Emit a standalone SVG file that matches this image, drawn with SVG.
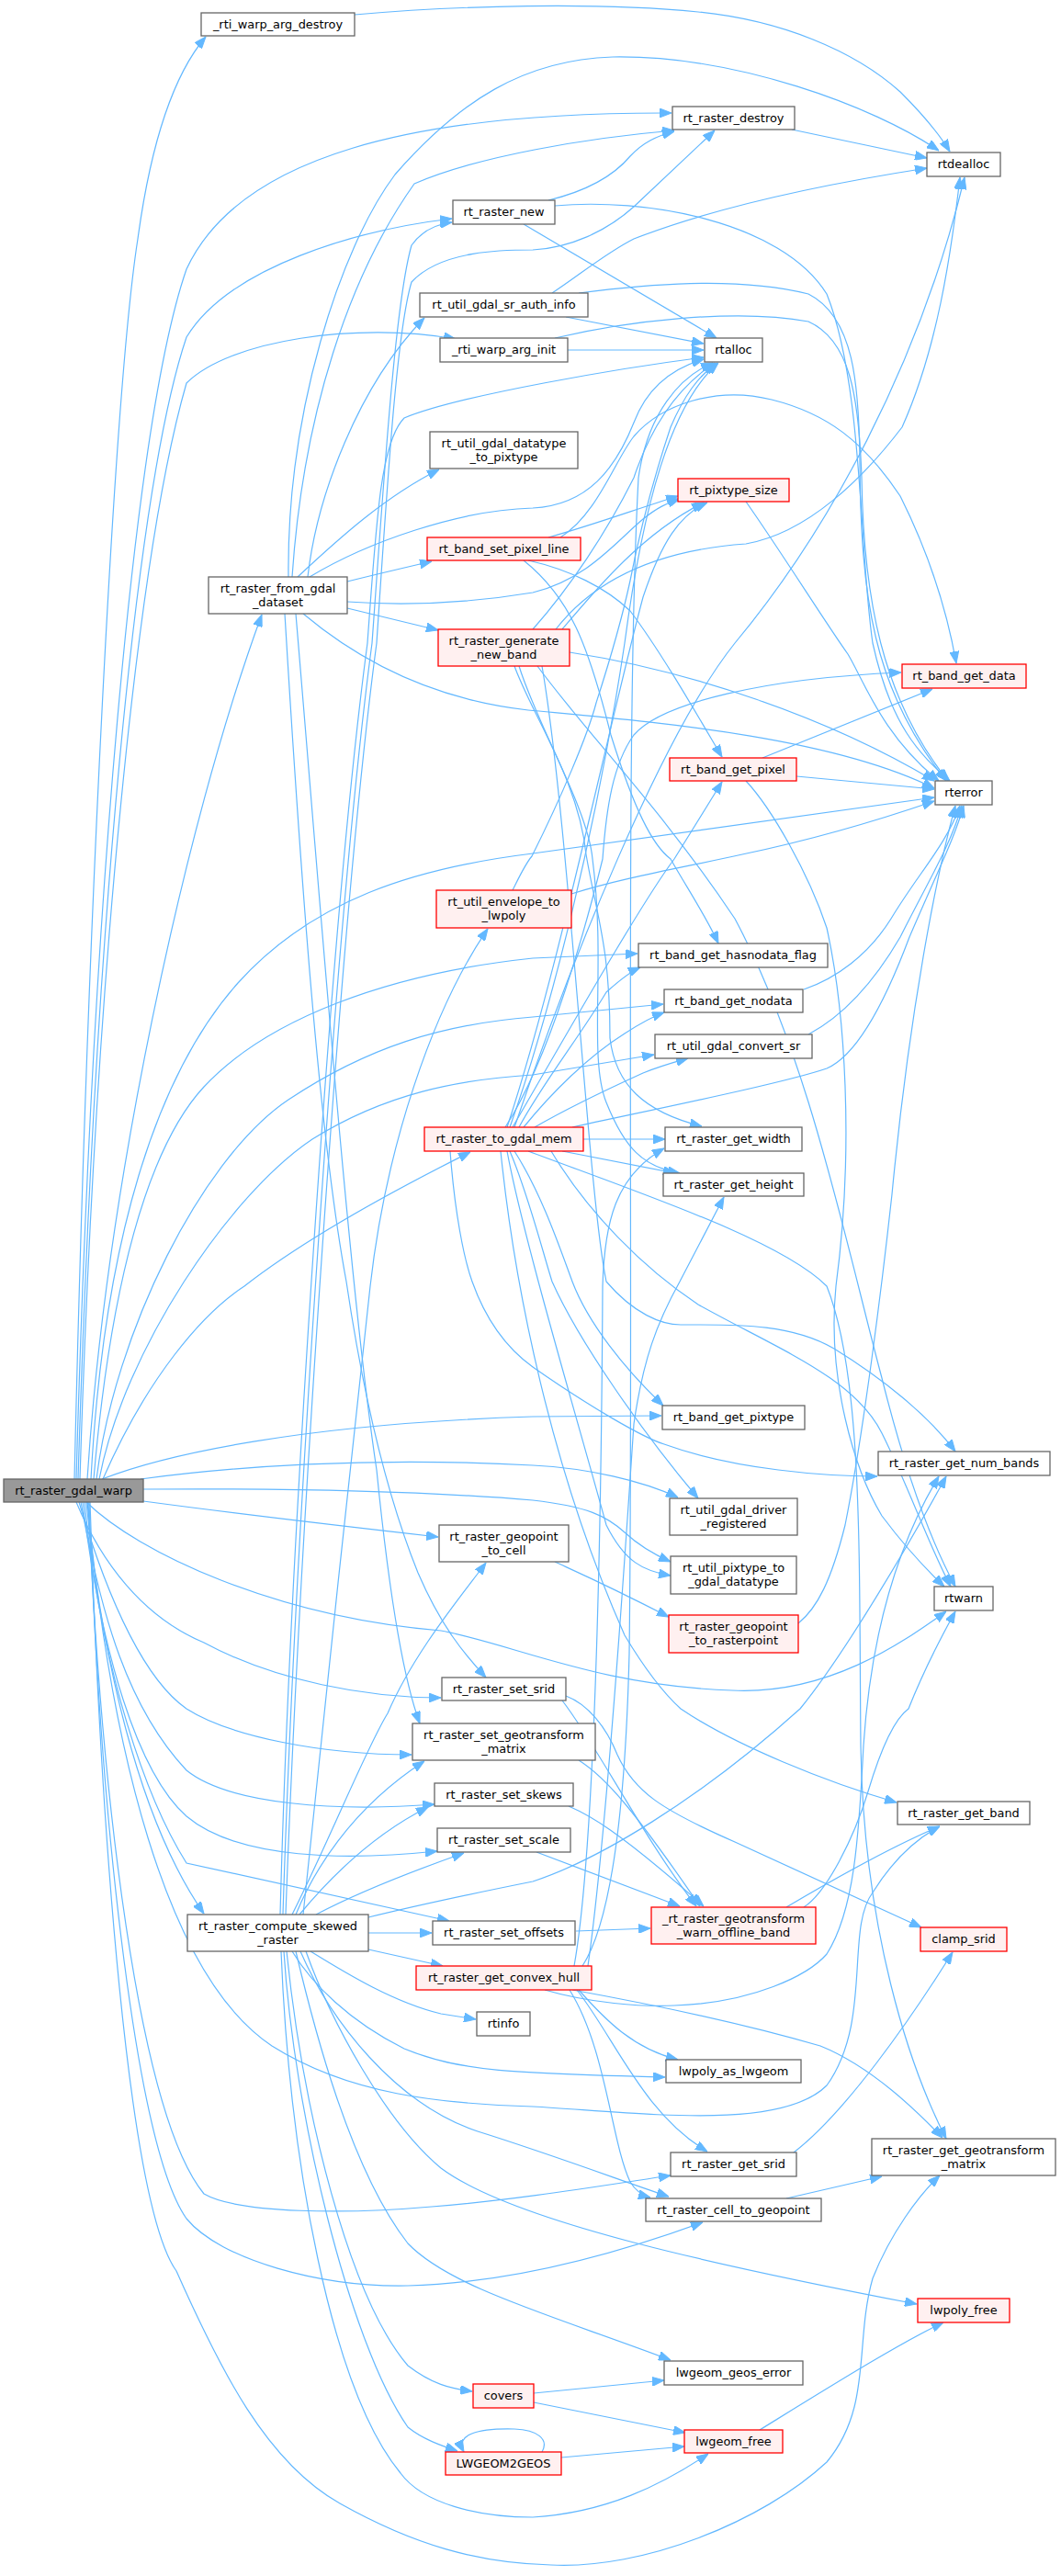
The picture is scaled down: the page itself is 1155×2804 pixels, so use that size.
<svg xmlns="http://www.w3.org/2000/svg" width="1155" height="2804" viewBox="0 0 1155 2804">
<style>
.e{fill:none;stroke:#63b8ff;stroke-width:1.2;marker-end:url(#ah)}
.n rect{fill:#ffffff;stroke:#666666;stroke-width:1.3}
.r rect{fill:#fff0f0;stroke:#ff0000;stroke-width:1.3}
.m rect{fill:#999999;stroke:#666666;stroke-width:1.3}
text{font-family:"DejaVu Sans","Liberation Sans",sans-serif;font-size:12.9px;fill:#000;text-anchor:middle}
</style>
<defs>
<marker id="ah" viewBox="0 0 13 10" refX="13" refY="5" markerWidth="13" markerHeight="10" markerUnits="userSpaceOnUse" orient="auto">
<path d="M0,0 L13,5 L0,10 z" fill="#63b8ff" stroke="#63b8ff"/>
</marker>
</defs>
<rect width="1155" height="2804" fill="#ffffff"/>
<g id="edges">
<!-- from rt_raster_gdal_warp -->
<path class="e" d="M81,1610 C95,1000 125,420 150,260 C165,150 190,80 224,40"/>
<path class="e" d="M83,1610 C100,1000 145,460 203,293 C260,170 450,122 731,123"/>
<path class="e" d="M85,1610 C103,1020 148,530 203,367 C250,290 390,250 492,238"/>
<path class="e" d="M87,1610 C104,1060 150,600 203,417 C250,370 390,350 496,369"/>
<path class="e" d="M95,1610 C115,1300 200,900 285,669"/>
<path class="e" d="M99,1610 C113,1350 170,1170 259,1070 C340,980 450,945 580,929 L1017,868"/>
<path class="e" d="M102,1610 C120,1400 160,1250 222,1183 C290,1110 420,1060 580,1043 L694,1038"/>
<path class="e" d="M105,1610 C125,1450 220,1260 314,1197 C400,1140 480,1115 580,1107 L722,1093"/>
<path class="e" d="M108,1610 C135,1470 250,1300 340,1240 C420,1190 500,1175 580,1170 L712,1148"/>
<path class="e" d="M112,1610 C160,1500 220,1430 266,1400 C330,1350 420,1300 512,1254"/>
<path class="e" d="M111,1610 C180,1583 330,1550 580,1542 L720,1541"/>
<path class="e" d="M153,1610 C250,1597 400,1585 580,1595 C640,1598 700,1612 738,1630"/>
<path class="e" d="M156,1621 C300,1620 450,1622 580,1633 C640,1640 660,1650 680,1668 C695,1682 712,1692 730,1700"/>
<path class="e" d="M156,1634 C260,1648 380,1662 477,1673"/>
<path class="e" d="M95,1635 C120,1900 180,2150 296,2227 C380,2280 480,2290 580,2293 C700,2300 850,2320 900,2270 C950,2200 920,2100 950,2060 C975,2020 1000,2000 1023,1988"/>
<path class="e" d="M94,1635 C150,1690 300,1760 480,1775 C560,1790 650,1835 797,1840 C900,1845 980,1790 1030,1754"/>
<path class="e" d="M83,1635 C110,1700 155,1760 222,1788 C300,1830 400,1848 480,1848"/>
<path class="e" d="M86,1635 C120,1750 160,1830 203,1860 C250,1890 350,1910 448,1910"/>
<path class="e" d="M88,1635 C110,1760 140,1860 203,1927 C250,1965 370,1972 473,1964"/>
<path class="e" d="M90,1635 C110,1800 150,1930 203,1977 C260,2025 380,2025 476,2015"/>
<path class="e" d="M92,1635 C110,1820 160,1960 203,2028 L489,2091"/>
<path class="e" d="M94,1635 C110,1800 150,1980 222,2083"/>
<path class="e" d="M96,1635 C110,1950 150,2300 222,2388 C260,2410 380,2410 470,2402 C560,2395 650,2380 730,2368"/>
<path class="e" d="M97,1635 C110,2000 150,2340 203,2415 C240,2460 350,2490 444,2488 C560,2485 680,2450 765,2419"/>
<path class="e" d="M98,1635 C110,2000 140,2400 192,2472 C240,2580 290,2680 370,2725 C450,2770 520,2790 600,2792 C700,2797 830,2745 900,2680 C950,2620 930,2550 950,2480 C970,2430 1000,2390 1023,2368"/>
<!-- from rt_raster_from_gdal_dataset -->
<path class="e" d="M318,628 C330,450 380,300 451,200 C520,170 640,150 734,142"/>
<path class="e" d="M314,628 C312,450 370,270 430,190 C500,110 570,65 667,62 C800,60 950,115 1022,164"/>
<path class="e" d="M335,628 C345,540 390,420 462,346"/>
<path class="e" d="M324,628 C370,585 420,540 478,511"/>
<path class="e" d="M378,633 C410,625 440,618 470,611"/>
<path class="e" d="M378,662 L477,686"/>
<path class="e" d="M330,668 C380,710 460,760 575,773 C700,785 900,800 1017,858"/>
<path class="e" d="M337,628 C400,590 500,555 580,553 C640,550 670,510 690,460 C705,420 735,400 766,391"/>
<path class="e" d="M378,655 C450,660 520,655 580,645 C640,630 670,590 700,565 C715,553 725,548 740,543"/>
<path class="e" d="M310,668 C330,1000 350,1250 377,1395 C400,1550 430,1650 455,1712 C480,1770 505,1800 529,1826"/>
<path class="e" d="M322,668 C350,1000 380,1400 410,1600 C425,1750 440,1830 457,1876"/>
<!-- from rt_raster_compute_skewed_raster -->
<path class="e" d="M305,2084 C315,1700 360,1000 400,700 C410,560 415,480 440,455 C500,430 680,400 766,389"/>
<path class="e" d="M308,2084 C320,1700 365,1000 405,700 C418,520 430,330 448,267 C460,250 475,244 492,242"/>
<path class="e" d="M311,2084 C325,1700 370,1000 410,700 C422,520 432,360 448,307 C480,272 550,272 580,272 C620,270 660,252 690,225 L778,142"/>
<path class="e" d="M330,2084 C350,1900 380,1600 403,1400 C420,1250 470,1100 531,1011"/>
<path class="e" d="M318,2084 C360,2000 400,1900 422,1865 C450,1800 500,1740 529,1701"/>
<path class="e" d="M322,2084 C340,2040 380,1970 462,1917"/>
<path class="e" d="M326,2084 C350,2055 400,2000 466,1967"/>
<path class="e" d="M344,2084 C380,2065 440,2040 505,2017"/>
<path class="e" d="M401,2104 L470,2104"/>
<path class="e" d="M401,2122 L482,2140"/>
<path class="e" d="M338,2124 C380,2150 430,2180 480,2192 L518,2198"/>
<path class="e" d="M318,2124 C340,2160 380,2200 440,2230 C500,2255 560,2257 724,2261"/>
<path class="e" d="M327,2124 C360,2200 430,2290 520,2320 C600,2345 680,2375 728,2391"/>
<path class="e" d="M333,2124 C360,2200 420,2310 480,2360 C560,2420 800,2470 998,2508"/>
<path class="e" d="M322,2124 C340,2200 380,2360 444,2442 C490,2490 600,2520 730,2569"/>
<path class="e" d="M312,2124 C330,2300 380,2500 444,2575 C470,2595 490,2600 514,2603"/>
<path class="e" d="M309,2124 C320,2300 380,2550 444,2642 C460,2655 480,2662 498,2668"/>
<path class="e" d="M306,2124 C315,2350 360,2600 436,2692 C460,2725 520,2740 580,2740 C660,2735 720,2705 771,2671"/>
<path class="e" d="M401,2087 C450,2075 520,2060 580,2048 C650,2025 760,1960 871,1860 C920,1800 990,1680 1030,1607"/>
<!-- from rt_raster_get_convex_hull -->
<path class="e" d="M634,2140 C660,2100 680,2000 685,1800 C690,1400 680,800 695,520 C705,450 740,410 776,395"/>
<path class="e" d="M625,2140 C650,2000 655,1600 656,1400 C658,1330 670,1280 723,1250"/>
<path class="e" d="M640,2140 C660,2000 680,1700 690,1550 C700,1480 715,1440 740,1395 L788,1303"/>
<path class="e" d="M630,2166 C660,2200 690,2230 738,2242"/>
<path class="e" d="M628,2166 C670,2220 700,2300 770,2342"/>
<path class="e" d="M620,2166 C660,2230 665,2330 686,2375 C692,2385 700,2390 708,2392"/>
<path class="e" d="M623,2166 C700,2180 800,2200 893,2227 C950,2250 1000,2300 1026,2327"/>
<path class="e" d="M593,2166 C640,2180 700,2185 734,2183 C820,2180 880,2150 900,2127 C930,2080 935,2000 940,1900 C950,1750 990,1660 1022,1607"/>
<!-- geotransform setters -->
<path class="e" d="M616,1846 C640,1855 660,1880 672,1910 C690,1950 720,1970 800,2005 L1003,2098"/>
<path class="e" d="M612,1851 C650,1900 700,2000 758,2075"/>
<path class="e" d="M630,1916 C660,1935 690,1970 762,2075"/>
<path class="e" d="M619,1966 C640,1975 670,1990 766,2075"/>
<path class="e" d="M584,2016 L740,2075"/>
<path class="e" d="M627,2102 L708,2099"/>
<path class="e" d="M856,2076 C900,2050 970,2010 1023,1988"/>
<path class="e" d="M875,2076 C900,2060 930,2000 945,1950 C960,1900 975,1870 989,1860 C1005,1820 1020,1790 1040,1754"/>
<!-- bottom right small -->
<path class="e" d="M864,2343 C920,2300 990,2200 1037,2125"/>
<path class="e" d="M856,2393 L960,2369"/>
<path class="e" d="M827,2645 C900,2600 980,2550 1027,2528"/>
<path class="e" d="M581,2605 L723,2591"/>
<path class="e" d="M581,2615 L746,2648"/>
<path class="e" d="M590,2669 C598,2655 585,2645 560,2644 C520,2643 495,2650 505,2669"/>
<path class="e" d="M611,2675 L745,2663"/>
<!-- envelope, geopoint -->
<path class="e" d="M558,969 C565,955 572,940 579,932 C610,870 640,800 649,765 C670,700 680,660 686,632 C700,560 715,510 730,465 C745,430 760,410 780,395"/>
<path class="e" d="M622,973 C680,955 740,945 808,930 C880,915 950,895 1017,872"/>
<path class="e" d="M869,1767 C890,1750 905,1720 920,1660 C940,1560 960,1400 971,1300 C990,1100 1020,950 1040,877"/>
<path class="e" d="M604,1700 C630,1712 660,1725 728,1760"/>
<!-- mid right -->
<path class="e" d="M812,546 C850,600 900,680 923,712 C940,740 960,800 1022,850"/>
<path class="e" d="M830,825 L1015,750"/>
<path class="e" d="M867,845 L1017,859"/>
<path class="e" d="M812,850 C840,880 880,950 900,1010 C920,1100 930,1250 910,1400 C900,1500 930,1600 960,1650 C990,1690 1010,1710 1028,1727"/>
<path class="e" d="M875,1077 C910,1065 945,1040 970,1000 C1000,950 1030,920 1045,877"/>
<path class="e" d="M880,1126 C910,1110 945,1080 980,1020 C1010,960 1035,920 1047,877"/>
<!-- top column 3 -->
<path class="e" d="M601,319 C630,300 660,275 690,260 C780,225 900,200 1009,183"/>
<path class="e" d="M616,345 L766,374"/>
<path class="e" d="M630,319 C700,310 800,300 880,320 C930,345 935,420 936,500 C937,650 950,750 1030,850"/>
<path class="e" d="M618,381 L766,381"/>
<path class="e" d="M604,368 C680,350 800,335 880,350 C925,370 935,430 938,520 C940,650 960,760 1032,850"/>
<path class="e" d="M597,218 C630,210 665,195 686,170 C700,155 715,148 734,143"/>
<path class="e" d="M570,244 L780,368"/>
<path class="e" d="M604,224 C700,215 850,240 900,320 C940,420 935,600 950,700 C970,790 1000,820 1034,850"/>
<path class="e" d="M862,141 L1009,172"/>
<path class="e" d="M386,16 C500,6 650,2 760,13 C850,22 930,55 980,100 C1010,130 1025,150 1034,165"/>
<!-- set_pixel_line -->
<path class="e" d="M597,585 C650,570 690,555 738,540"/>
<path class="e" d="M575,610 C620,620 660,640 686,665 C720,710 760,780 786,824"/>
<path class="e" d="M570,610 C620,650 640,700 665,800 C690,880 710,920 730,935 C750,970 770,1000 782,1027"/>
<path class="e" d="M610,585 C650,560 670,500 690,475 C720,440 780,420 840,435 C900,450 940,480 980,540 C1010,600 1030,660 1041,722"/>
<!-- generate_new_band -->
<path class="e" d="M580,685 C620,640 660,580 690,520 C710,460 740,420 778,395"/>
<path class="e" d="M612,685 C650,640 700,580 766,547"/>
<path class="e" d="M620,710 C750,730 900,780 1017,850"/>
<path class="e" d="M605,685 C640,640 700,600 812,592 C880,580 940,520 982,465 C1020,380 1035,280 1045,193"/>
<path class="e" d="M560,725 C580,780 630,850 638,930 C650,1000 664,1030 664,1130 C670,1180 700,1210 764,1226"/>
<path class="e" d="M565,725 C585,790 640,880 645,935 C660,1050 640,1150 660,1200 C680,1250 700,1270 740,1277"/>
<path class="e" d="M590,725 C620,900 640,1300 660,1395 C690,1430 720,1442 741,1442 C800,1442 860,1440 908,1468 C960,1500 1010,1540 1040,1580"/>
<path class="e" d="M585,725 C640,800 720,880 800,1000 C880,1150 920,1350 960,1500 C990,1620 1020,1690 1040,1727"/>
<!-- to_gdal_mem -->
<path class="e" d="M555,1227 C600,1100 650,900 680,700 C700,550 730,440 782,395"/>
<path class="e" d="M552,1227 C610,1050 660,800 700,650 C720,590 740,560 770,547"/>
<path class="e" d="M558,1227 C620,1120 700,980 734,935 L786,851"/>
<path class="e" d="M550,1227 C600,1150 640,1000 656,935 C660,880 667,832 690,800 C720,765 834,738 981,732"/>
<path class="e" d="M560,1227 C620,1050 720,800 800,700 C900,580 1000,400 1050,193"/>
<path class="e" d="M565,1227 C590,1180 630,1130 660,1080 C680,1062 690,1056 697,1053"/>
<path class="e" d="M570,1227 C600,1190 640,1150 680,1125 C700,1112 712,1106 723,1102"/>
<path class="e" d="M582,1227 C620,1205 667,1183 700,1168 C720,1160 735,1156 749,1152"/>
<path class="e" d="M623,1227 C700,1210 850,1180 900,1163 C930,1150 960,1100 990,1020 C1020,950 1040,910 1049,877"/>
<path class="e" d="M635,1240 L724,1240"/>
<path class="e" d="M612,1253 L735,1277"/>
<path class="e" d="M560,1253 C590,1300 610,1360 623,1395 C640,1440 680,1490 722,1530"/>
<path class="e" d="M555,1253 C575,1300 590,1360 601,1395 C630,1460 700,1560 760,1631"/>
<path class="e" d="M552,1253 C570,1350 630,1550 660,1660 C680,1700 700,1710 730,1715"/>
<path class="e" d="M490,1253 C495,1320 505,1370 514,1395 C530,1440 555,1470 580,1488 C640,1530 700,1565 723,1572 C800,1600 900,1607 955,1607"/>
<path class="e" d="M600,1253 C640,1320 700,1380 760,1420 C850,1470 930,1500 960,1560 C990,1620 1010,1680 1035,1727"/>
<path class="e" d="M545,1253 C560,1400 600,1600 680,1780 C710,1830 730,1850 741,1860 C800,1900 900,1940 976,1962"/>
<path class="e" d="M575,1253 C700,1300 850,1350 900,1400 C940,1500 935,1700 937,1900 C940,2100 990,2250 1030,2328"/>
</g>
<g id="n_warp" class="m"><rect x="4" y="1610" width="152" height="25"/><text x="80" y="1627">rt_raster_gdal_warp</text></g>
<g id="n_destroyarg" class="n"><rect x="219" y="14" width="167" height="25"/><text x="302.5" y="31">_rti_warp_arg_destroy</text></g>
<g id="n_fromgdal" class="n"><rect x="227" y="628" width="151" height="40"/><text x="302.5" y="644.5">rt_raster_from_gdal</text><text x="302.5" y="659.5">_dataset</text></g>
<g id="n_skewed" class="n"><rect x="204" y="2084" width="197" height="40"/><text x="302.5" y="2100.5">rt_raster_compute_skewed</text><text x="302.5" y="2115.5">_raster</text></g>
<g id="n_new" class="n"><rect x="493" y="218" width="111" height="26"/><text x="548.5" y="235">rt_raster_new</text></g>
<g id="n_srauth" class="n"><rect x="457" y="319" width="183" height="26"/><text x="548.5" y="336">rt_util_gdal_sr_auth_info</text></g>
<g id="n_init" class="n"><rect x="479" y="368" width="139" height="26"/><text x="548.5" y="385">_rti_warp_arg_init</text></g>
<g id="n_dt2pix" class="n"><rect x="468" y="470" width="161" height="40"/><text x="548.5" y="486.5">rt_util_gdal_datatype</text><text x="548.5" y="501.5">_to_pixtype</text></g>
<g id="n_bspl" class="r"><rect x="465" y="585" width="167" height="25"/><text x="548.5" y="602">rt_band_set_pixel_line</text></g>
<g id="n_gen" class="r"><rect x="477" y="685" width="143" height="40"/><text x="548.5" y="701.5">rt_raster_generate</text><text x="548.5" y="716.5">_new_band</text></g>
<g id="n_env" class="r"><rect x="475" y="969" width="147" height="41"/><text x="548.5" y="986">rt_util_envelope_to</text><text x="548.5" y="1001">_lwpoly</text></g>
<g id="n_mem" class="r"><rect x="462" y="1227" width="173" height="26"/><text x="548.5" y="1244">rt_raster_to_gdal_mem</text></g>
<g id="n_gp2cell" class="n"><rect x="478" y="1660" width="141" height="40"/><text x="548.5" y="1676.5">rt_raster_geopoint</text><text x="548.5" y="1691.5">_to_cell</text></g>
<g id="n_setsrid" class="n"><rect x="481" y="1826" width="135" height="25"/><text x="548.5" y="1843">rt_raster_set_srid</text></g>
<g id="n_setgt" class="n"><rect x="449" y="1876" width="199" height="40"/><text x="548.5" y="1892.5">rt_raster_set_geotransform</text><text x="548.5" y="1907.5">_matrix</text></g>
<g id="n_skews" class="n"><rect x="473" y="1941" width="151" height="25"/><text x="548.5" y="1958">rt_raster_set_skews</text></g>
<g id="n_scale" class="n"><rect x="476" y="1990" width="145" height="26"/><text x="548.5" y="2007">rt_raster_set_scale</text></g>
<g id="n_offsets" class="n"><rect x="471" y="2091" width="155" height="26"/><text x="548.5" y="2108">rt_raster_set_offsets</text></g>
<g id="n_hull" class="r"><rect x="453" y="2140" width="191" height="26"/><text x="548.5" y="2157">rt_raster_get_convex_hull</text></g>
<g id="n_rtinfo" class="n"><rect x="519" y="2190" width="58" height="26"/><text x="548" y="2207">rtinfo</text></g>
<g id="n_covers" class="r"><rect x="515" y="2595" width="66" height="26"/><text x="548" y="2612">covers</text></g>
<g id="n_l2g" class="r"><rect x="485" y="2669" width="126" height="25"/><text x="548" y="2686">LWGEOM2GEOS</text></g>
<g id="n_destroy" class="n"><rect x="732" y="116" width="133" height="25"/><text x="798.5" y="133">rt_raster_destroy</text></g>
<g id="n_rtalloc" class="n"><rect x="767" y="368" width="63" height="26"/><text x="798.5" y="385">rtalloc</text></g>
<g id="n_pxsize" class="r"><rect x="738" y="521" width="121" height="25"/><text x="798.5" y="538">rt_pixtype_size</text></g>
<g id="n_getpixel" class="r"><rect x="729" y="825" width="138" height="25"/><text x="798" y="842">rt_band_get_pixel</text></g>
<g id="n_hasnd" class="n"><rect x="695" y="1027" width="206" height="26"/><text x="798" y="1044">rt_band_get_hasnodata_flag</text></g>
<g id="n_nodata" class="n"><rect x="723" y="1077" width="151" height="25"/><text x="798.5" y="1094">rt_band_get_nodata</text></g>
<g id="n_convsr" class="n"><rect x="713" y="1126" width="171" height="26"/><text x="798.5" y="1143">rt_util_gdal_convert_sr</text></g>
<g id="n_width" class="n"><rect x="724" y="1227" width="149" height="26"/><text x="798.5" y="1244">rt_raster_get_width</text></g>
<g id="n_height" class="n"><rect x="722" y="1277" width="153" height="25"/><text x="798.5" y="1294">rt_raster_get_height</text></g>
<g id="n_pixtype" class="n"><rect x="721" y="1530" width="155" height="26"/><text x="798.5" y="1547">rt_band_get_pixtype</text></g>
<g id="n_drvreg" class="n"><rect x="729" y="1631" width="139" height="40"/><text x="798.5" y="1647.5">rt_util_gdal_driver</text><text x="798.5" y="1662.5">_registered</text></g>
<g id="n_px2gdal" class="n"><rect x="730" y="1694" width="137" height="41"/><text x="798.5" y="1711">rt_util_pixtype_to</text><text x="798.5" y="1726">_gdal_datatype</text></g>
<g id="n_gp2rp" class="r"><rect x="728" y="1758" width="141" height="41"/><text x="798.5" y="1775">rt_raster_geopoint</text><text x="798.5" y="1790">_to_rasterpoint</text></g>
<g id="n_warnoff" class="r"><rect x="709" y="2076" width="179" height="40"/><text x="798.5" y="2092.5">_rt_raster_geotransform</text><text x="798.5" y="2107.5">_warn_offline_band</text></g>
<g id="n_polyas" class="n"><rect x="725" y="2242" width="147" height="25"/><text x="798.5" y="2259">lwpoly_as_lwgeom</text></g>
<g id="n_getsrid" class="n"><rect x="730" y="2343" width="137" height="26"/><text x="798.5" y="2360">rt_raster_get_srid</text></g>
<g id="n_cell2gp" class="n"><rect x="703" y="2393" width="191" height="25"/><text x="798.5" y="2410">rt_raster_cell_to_geopoint</text></g>
<g id="n_geoserr" class="n"><rect x="723" y="2570" width="151" height="26"/><text x="798.5" y="2587">lwgeom_geos_error</text></g>
<g id="n_lwfree" class="r"><rect x="745" y="2645" width="107" height="25"/><text x="798.5" y="2662">lwgeom_free</text></g>
<g id="n_rtdealloc" class="n"><rect x="1009" y="166" width="80" height="26"/><text x="1049" y="183">rtdealloc</text></g>
<g id="n_getdata" class="r"><rect x="982" y="723" width="135" height="26"/><text x="1049.5" y="740">rt_band_get_data</text></g>
<g id="n_rterror" class="n"><rect x="1018" y="850" width="62" height="26"/><text x="1049" y="867">rterror</text></g>
<g id="n_numbands" class="n"><rect x="956" y="1580" width="187" height="26"/><text x="1049.5" y="1597">rt_raster_get_num_bands</text></g>
<g id="n_rtwarn" class="n"><rect x="1017" y="1727" width="64" height="26"/><text x="1049" y="1744">rtwarn</text></g>
<g id="n_getband" class="n"><rect x="977" y="1961" width="144" height="25"/><text x="1049" y="1978">rt_raster_get_band</text></g>
<g id="n_clamp" class="r"><rect x="1002" y="2098" width="94" height="26"/><text x="1049" y="2115">clamp_srid</text></g>
<g id="n_getgt" class="n"><rect x="949" y="2328" width="200" height="40"/><text x="1049" y="2344.5">rt_raster_get_geotransform</text><text x="1049" y="2359.5">_matrix</text></g>
<g id="n_polyfree" class="r"><rect x="999" y="2502" width="100" height="26"/><text x="1049" y="2519">lwpoly_free</text></g>
</svg>
